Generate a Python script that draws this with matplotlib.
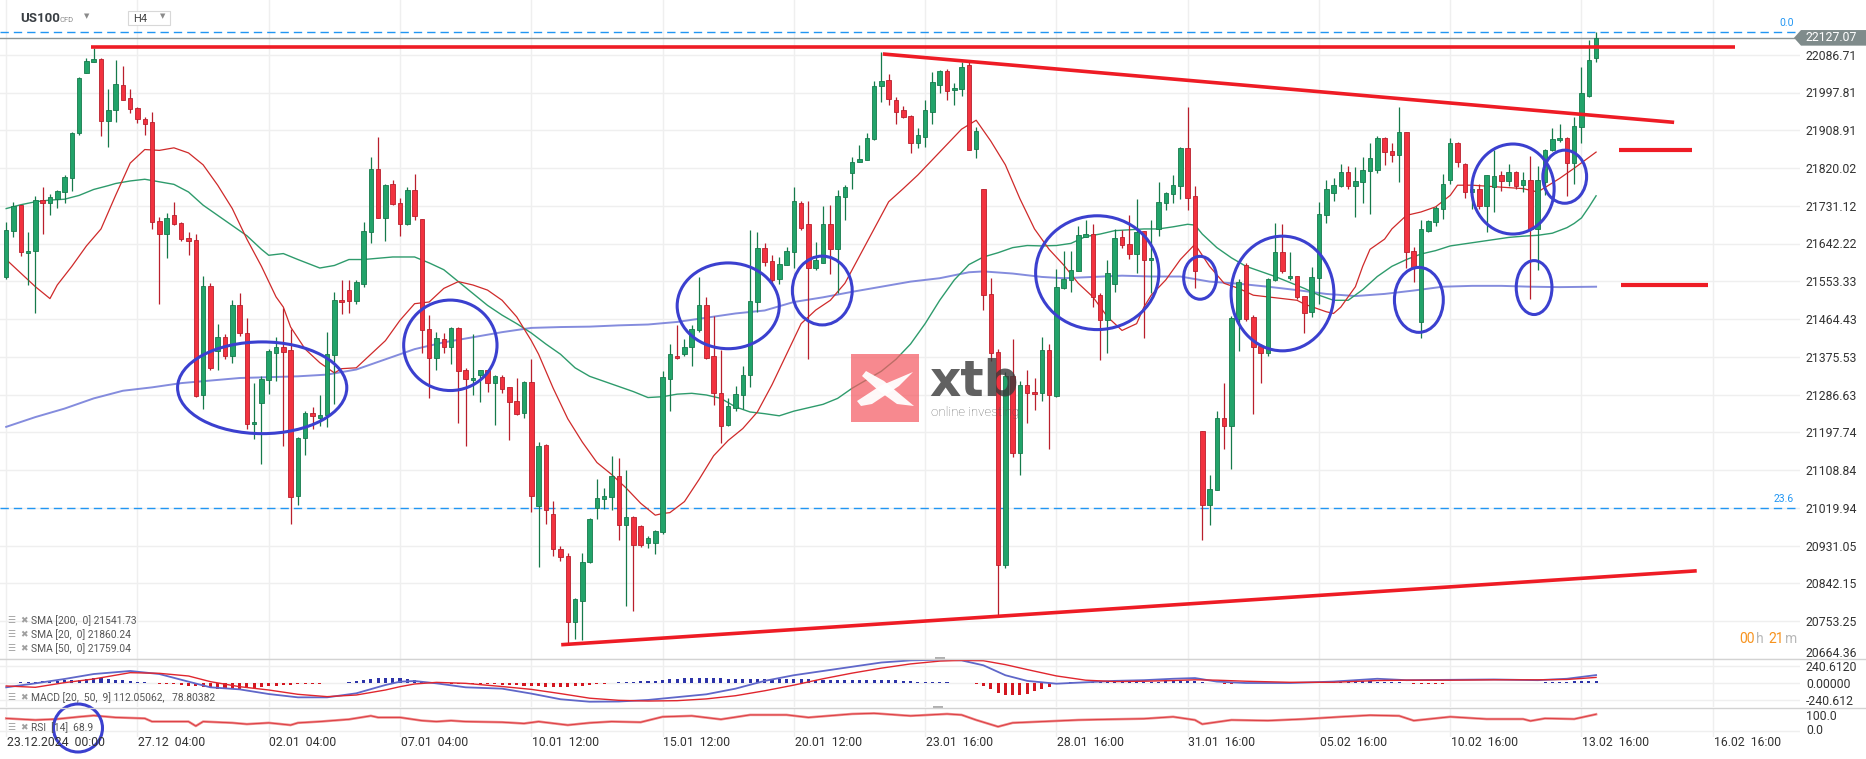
import matplotlib
matplotlib.use("Agg")
import matplotlib.pyplot as plt
import matplotlib.transforms as mtransforms
from matplotlib.patches import Ellipse, Rectangle, Polygon
from matplotlib.lines import Line2D
import numpy as np

plt.rcParams['font.family'] = ['Roboto', 'DejaVu Sans']

# ─── candles (US100, H4) ─────────────────────────────────────
opens = [
    21564, 21671, 21733, 21621, 21625, 21745, 21739, 21748, 21764, 21798,
    21904, 22045, 22070, 22078, 21932, 21956, 22017, 21986, 21962, 21937,
    21928, 21696, 21666, 21710, 21691, 21656, 21651, 21285, 21543, 21390,
    21423, 21378, 21497, 21432, 21217, 21266, 21321, 21386, 21399, 21392,
    21047, 21184, 21244, 21233, 21238, 21380, 21509, 21533, 21507, 21548,
    21669, 21819, 21703, 21783, 21738, 21689, 21769, 21701, 21441, 21372,
    21419, 21399, 21443, 21344, 21322, 21334, 21344, 21314, 21328, 21305,
    21273, 21244, 21317, 21024, 21168, 21006, 20924, 20908, 20751, 20801,
    20892, 21019, 21041, 21045, 21095, 20979, 20998, 20977, 20937, 20937,
    20963, 21324, 21379, 21383, 21398, 21438, 21497, 21378, 21290, 21216,
    21256, 21285, 21332, 21505, 21631, 21601, 21559, 21592, 21623, 21739,
    21689, 21585, 21597, 21689, 21629, 21752, 21808, 21834, 21840, 21888,
    22013, 22027, 21980, 21956, 21944, 21880, 21894, 21952, 22015, 22050,
    22004, 22007, 22063, 21866, 21772, 21524, 21388, 20886, 21330, 21150,
    21310, 21292, 21290, 21391, 21284, 21537, 21557, 21577, 21659, 21665,
    21521, 21462, 21548, 21658, 21642, 21617, 21671, 21604, 21677, 21738,
    21760, 21779, 21868, 21755, 21201, 21027, 21063, 21233, 21214, 21466,
    21593, 21470, 21402, 21386, 21556, 21623, 21561, 21566, 21519, 21482,
    21561, 21711, 21762, 21779, 21811, 21779, 21788, 21814, 21816, 21891,
    21860, 21852, 21906, 21625, 21458, 21673, 21694, 21725, 21792, 21880,
    21831, 21763, 21772, 21731, 21776, 21803, 21791, 21811, 21780, 21792,
    21677, 21788, 21862, 21886, 21890, 21832, 21917, 21990, 22079]
highs = [
    21693, 21741, 21734, 21670, 21755, 21776, 21760, 21769, 21803, 21906,
    22035, 22079, 22103, 22079, 22007, 22074, 22061, 22007, 21965, 21941,
    21953, 21706, 21715, 21741, 21693, 21669, 21666, 21567, 21549, 21454,
    21430, 21509, 21525, 21468, 21314, 21330, 21394, 21423, 21492, 21442,
    21187, 21248, 21258, 21286, 21434, 21529, 21557, 21557, 21556, 21693,
    21847, 21894, 21784, 21793, 21751, 21776, 21806, 21701, 21474, 21435,
    21431, 21446, 21446, 21350, 21430, 21346, 21346, 21332, 21332, 21306,
    21326, 21318, 21370, 21175, 21170, 21037, 20930, 20914, 20808, 20915,
    20997, 21089, 21066, 21143, 21137, 21109, 21001, 20980, 20955, 20969,
    21342, 21406, 21450, 21418, 21452, 21564, 21517, 21471, 21391, 21280,
    21308, 21354, 21675, 21670, 21643, 21615, 21611, 21635, 21776, 21743,
    21742, 21647, 21730, 21734, 21768, 21780, 21847, 21875, 21904, 22025,
    22093, 22043, 21988, 21967, 21946, 21914, 21980, 22047, 22051, 22053,
    22021, 22071, 22071, 21917, 21772, 21561, 21395, 21340, 21418, 21320,
    21345, 21326, 21423, 21407, 21583, 21625, 21625, 21685, 21697, 21689,
    21525, 21605, 21677, 21675, 21709, 21748, 21673, 21699, 21787, 21764,
    21804, 21870, 21965, 21779, 21201, 21097, 21248, 21314, 21471, 21559,
    21597, 21474, 21406, 21561, 21691, 21689, 21623, 21567, 21519, 21588,
    21741, 21792, 21796, 21830, 21826, 21822, 21846, 21880, 21896, 21894,
    21880, 21965, 21906, 21635, 21699, 21698, 21731, 21806, 21892, 21882,
    21832, 21787, 21784, 21804, 21862, 21814, 21831, 21814, 21812, 21848,
    21826, 21866, 21914, 21924, 21894, 21941, 22058, 22123, 22141]
lows = [
    21560, 21659, 21613, 21545, 21479, 21666, 21710, 21726, 21738, 21766,
    21898, 22045, 22070, 21895, 21870, 21929, 21980, 21950, 21927, 21898,
    21677, 21500, 21609, 21686, 21649, 21615, 21282, 21254, 21345, 21344,
    21370, 21362, 21426, 21205, 21183, 21123, 21288, 21318, 21167, 20983,
    21027, 21144, 21207, 21213, 21210, 21264, 21476, 21479, 21501, 21540,
    21643, 21703, 21649, 21734, 21661, 21686, 21697, 21386, 21280, 21344,
    21386, 21360, 21221, 21167, 21286, 21270, 21294, 21216, 21290, 21179,
    21240, 21232, 21011, 20880, 20983, 20907, 20896, 20703, 20712, 20710,
    20890, 20995, 21017, 21015, 20945, 20790, 20777, 20928, 20925, 20912,
    20958, 21248, 21370, 21378, 21354, 21434, 21370, 21262, 21173, 21213,
    21248, 21253, 21306, 21482, 21589, 21548, 21548, 21591, 21585, 21675,
    21370, 21580, 21596, 21572, 21525, 21697, 21771, 21834, 21839, 21886,
    21976, 21968, 21925, 21938, 21855, 21868, 21870, 21924, 21996, 21980,
    21970, 21990, 21862, 21844, 21487, 21366, 20767, 20878, 21140, 21097,
    21221, 21250, 21272, 21160, 21282, 21535, 21529, 21577, 21659, 21493,
    21368, 21386, 21529, 21633, 21607, 21573, 21420, 21527, 21661, 21722,
    21737, 21748, 21721, 21537, 20944, 20981, 21063, 21159, 21112, 21390,
    21460, 21242, 21314, 21378, 21555, 21573, 21557, 21513, 21431, 21470,
    21501, 21690, 21742, 21776, 21771, 21706, 21739, 21713, 21808, 21828,
    21834, 21788, 21585, 21553, 21420, 21669, 21685, 21701, 21783, 21822,
    21750, 21725, 21725, 21669, 21717, 21766, 21779, 21771, 21764, 21511,
    21580, 21758, 21860, 21882, 21755, 21784, 21880, 21988, 22071]
closes = [
    21674, 21731, 21623, 21625, 21745, 21737, 21752, 21767, 21800, 21904,
    22033, 22073, 22077, 21932, 21957, 22019, 21981, 21960, 21935, 21924,
    21693, 21666, 21702, 21689, 21653, 21649, 21284, 21543, 21350, 21422,
    21378, 21497, 21432, 21217, 21222, 21324, 21390, 21399, 21388, 21045,
    21184, 21244, 21236, 21238, 21382, 21509, 21505, 21507, 21551, 21672,
    21819, 21703, 21780, 21736, 21689, 21768, 21708, 21439, 21374, 21420,
    21399, 21443, 21342, 21324, 21326, 21344, 21314, 21330, 21300, 21270,
    21242, 21317, 21049, 21167, 21015, 20924, 20904, 20751, 20805, 20893,
    20993, 21043, 21049, 21095, 20979, 20998, 20932, 20933, 20950, 20965,
    21328, 21382, 21374, 21399, 21442, 21497, 21374, 21290, 21212, 21261,
    21288, 21334, 21507, 21631, 21599, 21557, 21595, 21625, 21742, 21679,
    21585, 21603, 21689, 21629, 21755, 21776, 21834, 21842, 21892, 22014,
    22026, 21984, 21952, 21941, 21880, 21898, 21956, 22023, 22050, 22002,
    22010, 22059, 21864, 21908, 21521, 21386, 20886, 21330, 21150, 21310,
    21290, 21288, 21391, 21286, 21541, 21559, 21580, 21663, 21665, 21517,
    21463, 21573, 21655, 21639, 21619, 21670, 21605, 21608, 21741, 21762,
    21780, 21868, 21751, 21577, 21027, 21065, 21233, 21214, 21467, 21551,
    21466, 21399, 21386, 21559, 21623, 21579, 21566, 21517, 21478, 21564,
    21713, 21771, 21780, 21811, 21779, 21790, 21815, 21844, 21891, 21858,
    21852, 21906, 21623, 21588, 21677, 21695, 21726, 21784, 21880, 21835,
    21763, 21772, 21731, 21803, 21802, 21791, 21811, 21779, 21792, 21677,
    21792, 21864, 21888, 21890, 21832, 21920, 21998, 22075, 22127.07]

# ─── moving averages (candle index, value) ──
sma20_idx = [0, 2, 4, 6, 7, 9, 11, 13, 15, 17, 19, 21, 23, 25, 27, 29, 31, 33, 35, 37,
             38, 39, 41, 43, 45, 46, 48, 50, 52, 54, 56, 58, 60, 62, 64, 66, 68, 70, 72, 73,
             75, 77, 79, 81, 83, 85, 87, 89, 90, 91, 93, 95, 97, 99, 101, 103, 105, 107, 109, 111,
             113, 115, 117, 119, 121, 123, 125, 127, 129, 131, 133, 135, 137, 139, 141, 143, 145, 147, 149, 151,
             153, 155, 156, 157, 159, 161, 163, 165, 167, 169, 171, 173, 175, 177, 178, 181, 182, 183, 185, 186,
             187, 189, 190, 192, 194, 196, 198, 199, 201, 208, 210, 213, 215, 218]
sma20_val = [21605, 21573, 21541, 21513, 21545, 21589, 21637, 21677, 21756, 21832,
             21864, 21862, 21868, 21856, 21828, 21780, 21725, 21653, 21589, 21517,
             21493, 21446, 21394, 21362, 21338, 21348, 21350, 21382, 21414, 21462,
             21501, 21505, 21537, 21553, 21545, 21533, 21509, 21470, 21414, 21382,
             21302, 21230, 21175, 21127, 21099, 21067, 21031, 21003, 21007, 21009,
             21035, 21087, 21143, 21179, 21207, 21246, 21310, 21382, 21454, 21486,
             21509, 21549, 21613, 21677, 21741, 21772, 21804, 21840, 21876, 21912,
             21933, 21884, 21828, 21748, 21677, 21629, 21592, 21549, 21517, 21470,
             21438, 21454, 21493, 21521, 21557, 21605, 21641, 21589, 21549, 21537,
             21521, 21517, 21513, 21509, 21500, 21482, 21478, 21493, 21541, 21589,
             21629, 21653, 21677, 21709, 21717, 21729, 21756, 21780, 21780, 21772,
             21764, 21796, 21820, 21858]
sma50_idx = [0, 2, 4, 6, 8, 10, 12, 14, 15, 17, 19, 21, 23, 25, 27, 29, 31, 33, 35, 36,
             38, 40, 43, 45, 47, 49, 51, 53, 56, 58, 60, 62, 64, 66, 68, 70, 72, 74, 76, 78,
             80, 82, 84, 86, 88, 90, 92, 94, 96, 98, 100, 102, 104, 106, 108, 110, 112, 114, 116, 118,
             120, 122, 124, 126, 128, 130, 132, 134, 136, 138, 140, 142, 144, 146, 148, 150, 152, 154, 156, 158,
             160, 162, 163, 164, 166, 168, 170, 172, 174, 176, 178, 180, 182, 184, 186, 188, 190, 192, 194, 196,
             198, 200, 202, 204, 206, 208, 210, 212, 214, 215, 216, 217, 218]
sma50_val = [21725, 21734, 21741, 21745, 21747, 21756, 21770, 21779, 21784, 21790,
             21794, 21788, 21782, 21764, 21733, 21709, 21685, 21661, 21629, 21615,
             21619, 21605, 21585, 21591, 21605, 21605, 21608, 21611, 21611, 21597,
             21581, 21553, 21525, 21497, 21474, 21454, 21432, 21406, 21382, 21350,
             21330, 21318, 21306, 21294, 21280, 21282, 21288, 21290, 21286, 21278,
             21258, 21246, 21242, 21237, 21248, 21256, 21264, 21278, 21302, 21322,
             21342, 21370, 21406, 21454, 21509, 21557, 21593, 21611, 21621, 21633,
             21638, 21637, 21638, 21643, 21659, 21665, 21673, 21675, 21677, 21677,
             21682, 21688, 21686, 21665, 21633, 21609, 21589, 21577, 21565, 21551,
             21537, 21521, 21509, 21509, 21534, 21565, 21589, 21605, 21618, 21626,
             21637, 21642, 21647, 21652, 21657, 21660, 21662, 21667, 21680, 21690,
             21703, 21728, 21755]
sma200_idx = [0, 4, 8, 12, 16, 20, 24, 28, 32, 36, 40, 44, 48, 52, 56, 60, 64, 68, 72, 76,
              80, 84, 88, 92, 96, 100, 104, 108, 112, 116, 120, 124, 128, 132, 134, 138, 142, 145, 149, 153,
              157, 161, 165, 169, 173, 177, 181, 185, 189, 193, 197, 201, 205, 209, 213, 218]
sma200_val = [21211, 21234, 21254, 21278, 21296, 21304, 21314, 21320, 21326, 21328,
              21330, 21334, 21346, 21370, 21394, 21410, 21422, 21434, 21444, 21446,
              21447, 21450, 21452, 21458, 21468, 21478, 21485, 21505, 21516, 21529,
              21541, 21553, 21561, 21575, 21577, 21572, 21564, 21561, 21564, 21567,
              21565, 21565, 21553, 21548, 21541, 21533, 21524, 21519, 21524, 21532,
              21541, 21543, 21543, 21541, 21540, 21541]

# ─── MACD [20,50,9] and RSI [14] ─────────────────────────────
macd_idx = [0, 4, 8, 12, 17, 21, 25, 28, 32, 36, 40, 44, 48, 52, 54, 56, 59, 63, 68, 72,
            76, 80, 84, 88, 92, 96, 100, 104, 108, 112, 116, 120, 124, 128, 131, 134, 137, 140, 144, 148,
            152, 156, 160, 163, 166, 170, 176, 182, 188, 192, 198, 204, 210, 214, 218]
macd_val = [-61, -5, 57, 127, 170, 127, 19, -61, -90, -156, -203, -203, -146, -28, 19, 28, -5, -61, -80, -150,
            -230, -265, -262, -240, -200, -160, -80, 30, 110, 170, 230, 290, 320, 330, 320, 250, 110, 30, -10, 10,
            30, 40, 60, 70, 20, 0, 0, 20, 60, 40, 45, 50, 40, 60, 112]
signal_val = [-42, -61, 5, 57, 146, 137, 99, 19, -52, -99, -160, -193, -170, -99, -52, -14, 9, -5, -50, -90,
              -150, -215, -245, -255, -250, -225, -180, -110, -30, 60, 140, 210, 270, 310, 320, 315, 260, 190, 100, 40,
              20, 25, 35, 45, 40, 25, 10, 10, 35, 40, 40, 45, 45, 50, 79]
macd_hist = [
    -3, 3, 10, 14, 19, 24, 28, 33, 38, 42,
    47, 57, 66, 66, 57, 47, 38, 28, 19, 9,
    2, -9, -14, -19, -28, -38, -47, -57, -66, -80,
    -85, -85, -80, -76, -66, -57, -47, -38, -28, -24,
    -19, -14, -9, -9, -5, 0, 5, 14, 28, 47,
    61, 71, 76, 76, 71, 61, 47, 28, 14, 3,
    -5, -9, -14, -14, -19, -19, -19, -19, -24, -28,
    -33, -38, -42, -47, -52, -57, -57, -52, -47, -38,
    -28, -19, -9, 5, 10, 15, 20, 25, 30, 35,
    45, 55, 62, 68, 72, 76, 76, 72, 66, 60,
    56, 54, 58, 62, 62, 60, 56, 54, 56, 54,
    50, 46, 44, 42, 42, 42, 44, 44, 44, 46,
    46, 42, 36, 30, 24, 20, 16, 14, 12, 9,
    6, 4, -5, -20, -40, -90, -140, -165, -175, -170,
    -150, -120, -90, -50, -20, 5, 10, 12, 14, 14,
    12, 10, 10, 12, 14, 16, 16, 18, 20, 22,
    24, 26, 26, 22, 10, 0, -5, -8, -8, -5,
    -3, 0, 0, 3, 5, 5, 6, 8, 10, 12,
    14, 16, 18, 20, 22, 24, 24, 22, 20, 16,
    12, 8, 0, -8, -10, -10, -10, -8, -6, -3,
    0, 0, 0, 0, 0, 0, 0, 0, 0, 0,
    5, 10, 14, 18, 20, 22, 26, 30, 33]
rsi_idx = [0, 4, 7, 10, 12, 15, 19, 20, 25, 26, 27, 31, 33, 36, 39, 40, 43, 47, 50, 51,
           54, 57, 59, 61, 63, 68, 71, 73, 77, 80, 83, 87, 90, 94, 98, 102, 107, 110, 116, 119,
           124, 129, 131, 133, 136, 138, 142, 147, 151, 156, 160, 163, 164, 168, 173, 178, 183, 187, 191, 193,
           198, 203, 208, 209, 211, 215, 218]
rsi_val = [56, 51, 54, 61, 65, 59, 56, 46, 46, 32, 46, 42, 38, 42, 35, 42, 46, 53, 64, 59,
           59, 49, 46, 49, 46, 44, 40, 46, 35, 42, 46, 44, 61, 64, 53, 67, 67, 59, 70, 72,
           64, 70, 67, 51, 30, 42, 46, 51, 53, 55, 61, 51, 38, 51, 49, 54, 61, 66, 64, 49,
           61, 54, 54, 48, 56, 54, 69]

# ─── axis text ───────────────────────────────────────────────
price_ticks = [22086.71, 21997.81, 21908.91, 21820.02, 21731.12, 21642.22, 21553.33,
               21464.43, 21375.53, 21286.63, 21197.74, 21108.84, 21019.94, 20931.05,
               20842.15, 20753.25, 20664.36]
x_labels = ['23.12.2024  00:00', '27.12  04:00', '02.01  04:00', '07.01  04:00',
            '10.01  12:00', '15.01  12:00', '20.01  12:00', '23.01  16:00',
            '28.01  16:00', '31.01  16:00', '05.02  16:00', '10.02  16:00',
            '13.02  16:00', '16.02  16:00']
last_price = 22127.07
fib_levels = [22141.5, 21019.94]
fib_names = ['0.0', '23.6']

# ─── hand-drawn annotations (candle index, price) ────────────
resist_x, resist_y = [11.6, 237.0], [22105, 22105]
down_x, down_y = [120.2, 228.7], [22089, 21928]
up_x, up_y = [76.1, 231.8], [20698, 20872]
marks_x = [[221.1, 231.2], [221.4, 233.4]]
marks_y = [21863, 21546]
ell_x = [35.1, 60.9, 99.0, 111.9, 149.6, 163.7, 175.0, 193.7, 206.6, 213.7, 209.5]
ell_y = [21303, 21403, 21496, 21532, 21574, 21562, 21525, 21510, 21771, 21800, 21539]
ell_w = [23.2, 12.8, 14.0, 8.2, 16.9, 4.5, 14.1, 6.7, 11.3, 6.0, 4.9]
ell_h = [216, 213, 202, 162, 268, 101, 270, 153, 212, 125, 127]

# ══════════════════════════════════════════════════════════════
W, H = 1866, 759
fig = plt.figure(figsize=(W / 100, H / 100), dpi=100)
fig.patch.set_facecolor('white')


def box(x0, y0, x1, y1):
    return [x0 / W, 1 - y1 / H, (x1 - x0) / W, (y1 - y0) / H]


def fx(px):
    return px / W


def fy(py):
    return 1 - py / H


XLIM = (-0.85, 245.96)
GRID = '#efefef'
xt = list(range(0, 246, 18))

# ─── main price panel ────────────────────────────────────────
ax = fig.add_axes(box(0, 0, 1800, 659))
ax.set_xlim(*XLIM)
ax.set_ylim(20665.9, 22216.1)
for s in ax.spines.values():
    s.set_visible(False)
ax.set_xticks(xt)
ax.set_yticks(price_ticks)
ax.tick_params(length=0, labelleft=False, labelbottom=False)
ax.grid(True, color=GRID, lw=1.0)
ax.set_axisbelow(True)

ax.plot(sma200_idx, sma200_val, color='#6f78d8', lw=1.4, alpha=0.85, zorder=2)
ax.plot(sma50_idx, sma50_val, color='#2e9b6c', lw=1.0, zorder=2)
ax.plot(sma20_idx, sma20_val, color='#cf2a2a', lw=0.9, zorder=2)

o, hi, lo, c = map(np.asarray, (opens, highs, lows, closes))
idx = np.arange(len(c))
up = c >= o
fill = np.where(up, '#22a36a', '#f2323f')
edge = np.where(up, '#167a4b', '#b91f2c')
ax.vlines(idx, lo, hi, colors=edge, lw=0.9, zorder=3)
ax.bar(idx, np.maximum(np.abs(c - o), 3), bottom=np.minimum(o, c), width=0.62,
       color=fill, edgecolor=edge, linewidth=0.6, zorder=4)

# fib + current price lines
for lvl, name in zip(fib_levels, fib_names):
    ax.axhline(lvl, color='#2196f3', lw=1.0, dashes=(6, 3.6), zorder=1)
ax.axhline(last_price, xmax=1794 / 1800, color='#8d9595', lw=1.0, zorder=1)

# trend lines
red = '#ee1c25'
for xs, ys in [(resist_x, resist_y), (down_x, down_y), (up_x, up_y)]:
    ax.plot(xs, ys, color=red, lw=2.6, solid_capstyle='butt', zorder=5)
for xs, yv in zip(marks_x, marks_y):
    ax.plot(xs, [yv, yv], color=red, lw=3.0, solid_capstyle='butt', zorder=5)

# blue ellipses
for ex, ey, ew, eh in zip(ell_x, ell_y, ell_w, ell_h):
    ax.add_patch(Ellipse((ex, ey), ew, eh, fill=False, edgecolor='#3b40cf', lw=2.2, zorder=6))

# price axis labels
tr = mtransforms.blended_transform_factory(fig.transFigure, ax.transData)
ybot = ax.get_ylim()[0]
for p in price_ticks:
    ax.text(fx(1806), max(p - 3, ybot + 14), f'{p:.2f}', transform=tr, fontsize=8.8,
            color='#333333', va='center', ha='left', clip_on=False)
for lvl, name in zip(fib_levels, fib_names):
    ax.text(fx(1794), lvl + 21, name, transform=tr, fontsize=7.5, color='#2196f3',
            va='center', ha='right', clip_on=False)

# last price tag
y_lp = 55 - (last_price - 22086.71) / 2.3523
tag = [(1794, y_lp), (1801, y_lp - 7.8), (1866, y_lp - 7.8), (1866, y_lp + 7.8), (1801, y_lp + 7.8)]
fig.add_artist(Polygon([(fx(a), fy(b)) for a, b in tag], closed=True, transform=fig.transFigure,
                       facecolor='#7f8b8b', edgecolor='none'))
fig.text(fx(1806), fy(y_lp), f'{last_price:.2f}', fontsize=8.8, color='white', va='center', ha='left')

# ─── MACD panel ──────────────────────────────────────────────
axm = fig.add_axes(box(0, 659, 1800, 707))
axm.set_xlim(*XLIM)
axm.set_ylim(-339.6, 339.6)
for s in axm.spines.values():
    s.set_visible(False)
axm.set_xticks(xt)
axm.set_yticks([-240.612, 0, 240.612])
axm.tick_params(length=0, labelleft=False, labelbottom=False)
axm.grid(True, color=GRID, lw=1.0)
axm.set_axisbelow(True)
hist = np.asarray(macd_hist)
axm.bar(idx, hist, width=0.42, color=np.where(hist >= 0, '#2c33a8', '#d3161f'), zorder=2)
axm.plot(macd_idx, macd_val, color='#5f67c9', lw=1.3, zorder=3)
axm.plot(macd_idx, signal_val, color='#e0262e', lw=1.0, zorder=3)
trm = mtransforms.blended_transform_factory(fig.transFigure, axm.transData)
for v, s in [(240.612, '240.6120'), (0, '0.00000'), (-240.612, '-240.612')]:
    axm.text(fx(1806), v - 20, s, transform=trm, fontsize=8.8, color='#333333',
             va='center', ha='left', clip_on=False)

# ─── RSI panel ───────────────────────────────────────────────
axr = fig.add_axes(box(0, 708, 1800, 737))
axr.set_xlim(*XLIM)
axr.set_ylim(-2.5, 88.7)
for s in axr.spines.values():
    s.set_visible(False)
axr.set_xticks(xt)
axr.set_yticks([])
axr.tick_params(length=0, labelleft=False, labelbottom=False)
axr.grid(True, axis='x', color=GRID, lw=1.0)
axr.axhline(17, color=GRID, lw=1.0, zorder=0)
axr.plot(rsi_idx, rsi_val, color='#ef8a8a', lw=1.8, zorder=2)
axr.plot(rsi_idx, rsi_val, color='#d9343a', lw=0.6, zorder=3)
fig.text(fx(1806), fy(716), '100.0', fontsize=8.8, color='#333333', va='center')
fig.text(fx(1806), fy(730), '0.0', fontsize=8.8, color='#333333', va='center')

# panel separators and drag handles
for yy in (659, 707.5):
    fig.add_artist(Line2D([0, 1], [fy(yy), fy(yy)], transform=fig.transFigure, color='#d3d3d3', lw=1.0))
for hx, hy in [(940, 658), (938, 707.5)]:
    fig.add_artist(Rectangle((fx(hx - 5), fy(hy + 1.5)), 10 / W, 3 / H, transform=fig.transFigure,
                             facecolor='#b0b0b0', edgecolor='none'))

# x labels
trx = mtransforms.blended_transform_factory(ax.transData, fig.transFigure)
for k, lab in enumerate(x_labels):
    fig.text(xt[k] + 0.1, fy(742), lab, transform=trx, fontsize=8.8, color='#333333',
             va='center', ha='left')

# ─── header ──────────────────────────────────────────────────
fig.text(fx(20), fy(19), 'US100', fontsize=9.5, fontweight='bold', color='#3a3f44', va='center')
fig.text(fx(60), fy(20), 'CFD', fontsize=5.5, color='#8a8a8a', va='center')
fig.text(fx(87), fy(17), '▼', fontsize=5, color='#8a8a8a', ha='center', va='center')
fig.add_artist(Rectangle((fx(127.7), fy(25.3)), 42.3 / W, 14.6 / H, transform=fig.transFigure,
                         facecolor='white', edgecolor='#d8d8d8', lw=0.8))
fig.text(fx(133), fy(19), 'H4', fontsize=8, color='#444444', va='center')
fig.text(fx(163), fy(17), '▼', fontsize=5, color='#8a8a8a', ha='center', va='center')

# ─── indicator legends ───────────────────────────────────────
legend_rows = [(620.7, 'SMA [200,  0] 21541.73'), (634.3, 'SMA [20,  0] 21860.24'),
               (648.3, 'SMA [50,  0] 21759.04'), (697.7, 'MACD [20,  50,  9] 112.05062,   78.80382'),
               (727.3, 'RSI  [14]  68.9')]
for yy, s in legend_rows:
    fig.text(fx(7), fy(yy), '☰', fontsize=6.5, color='#a0a0a0', va='center')
    fig.text(fx(20), fy(yy), '✖', fontsize=6.5, color='#a0a0a0', va='center')
    fig.text(fx(31), fy(yy), s, fontsize=7.4, color='#555555', va='center')
fig.add_artist(Ellipse((fx(78), fy(728)), 49 / W, 48 / H, transform=fig.transFigure,
                       fill=False, edgecolor='#3b40cf', lw=2.2))

# countdown
for xx, s, col in [(1739, '00', '#f7931e'), (1756, 'h', '#b8b8b8'), (1768, '21', '#f7931e'), (1785, 'm', '#b8b8b8')]:
    fig.text(fx(xx), fy(639), s, fontsize=10, color=col, va='center')

# ─── xtb watermark ───────────────────────────────────────────
fig.add_artist(Rectangle((fx(851), fy(421.5)), 68 / W, 68 / H, transform=fig.transFigure,
                         facecolor='#f45c64', edgecolor='none', alpha=0.72))
stroke1 = [(857, 401), (880, 386), (913, 372), (899, 386), (872, 404), (861, 406)]
stroke2 = [(866, 371), (884, 381), (914, 406), (897, 404), (879, 391), (862, 376)]
for st in (stroke1, stroke2):
    fig.add_artist(Polygon([(fx(a), fy(b)) for a, b in st], closed=True, transform=fig.transFigure,
                           facecolor='white', edgecolor='none', alpha=0.95))
fig.text(fx(929), fy(396), 'xtb', fontsize=35, fontweight='bold', family='DejaVu Sans',
         color='#3a3a3a', alpha=0.8, va='baseline', ha='left')
fig.text(fx(931), fy(416), 'online investing', fontsize=9.5, fontweight='light',
         color='#555555', alpha=0.85, va='baseline', ha='left')

fig.savefig('out.png', dpi=100, facecolor='white')
